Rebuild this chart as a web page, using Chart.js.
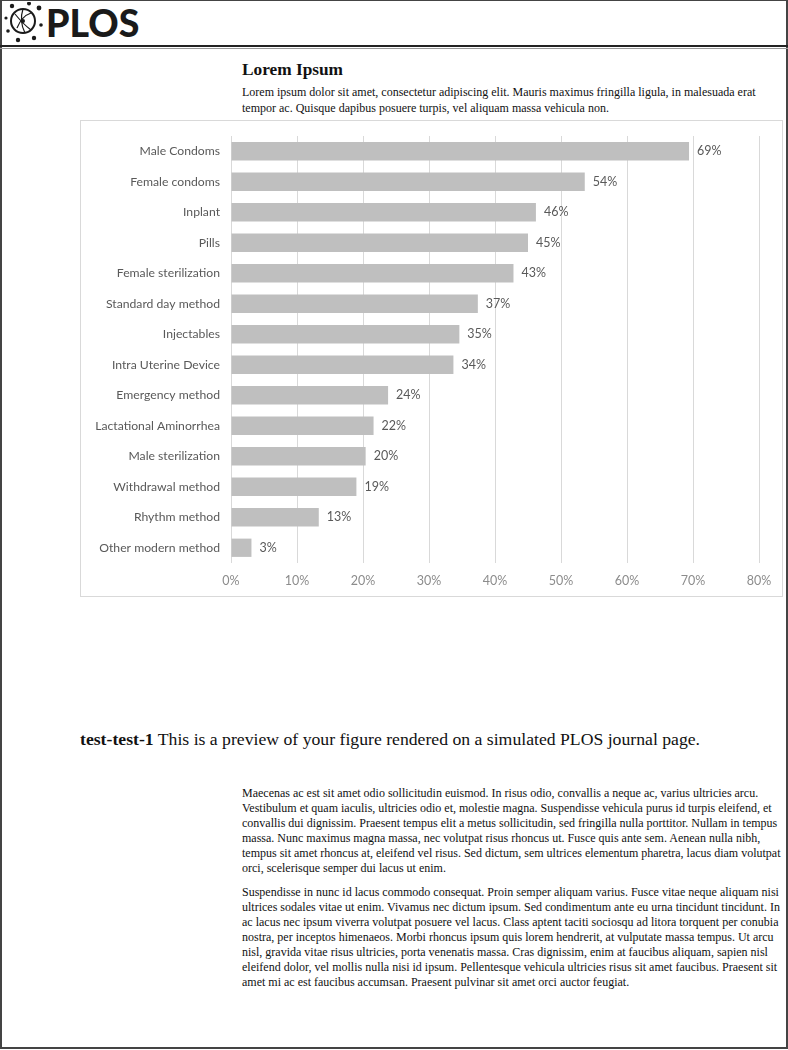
<!DOCTYPE html>
<html>
<head>
<meta charset="utf-8">
<script src="https://cdn.jsdelivr.net/npm/chart.js@4.4.0/dist/chart.umd.min.js"></script>
<style>
  html, body { margin: 0; padding: 0; background: #fff; }
  body { width: 788px; height: 1050px; position: relative; overflow: hidden; font-family: "Liberation Serif", "Times New Roman", serif; color: #111; }
  .frame { position: absolute; left: 0; top: 0; width: 784px; height: 1046px; border: 2px solid #444; border-top: 1px solid #444; }
  .header-line { position: absolute; left: 0; top: 45px; width: 788px; height: 2px; background: #222; }
  .header-line2 { position: absolute; left: 0; top: 48px; width: 788px; height: 1px; background: #999; }
  .logo { position: absolute; left: 4px; top: 2px; }
  .logo-text { position: absolute; left: 46px; top: 0px; font-family: "Lato", "DejaVu Sans", sans-serif; font-weight: 900; font-size: 37.5px; color: #1a1a1a; }
  .title { position: absolute; left: 242px; top: 60px; font-size: 17.3px; font-weight: bold; }
  .subtitle { position: absolute; left: 242px; top: 84px; width: 540px; font-size: 12px; line-height: 16px; }
  .chart-box { position: absolute; left: 80px; top: 120px; width: 701px; height: 475px; border: 1px solid #d9d9d9; }
  .caption { position: absolute; left: 80px; top: 729px; font-size: 17.7px; }
  .body-text { position: absolute; left: 242px; top: 786px; width: 542px; font-size: 12px; line-height: 15.1px; }
  .body-text p { margin: 0 0 8px 0; }
</style>
</head>
<body>
<div class="frame"></div>
<svg class="logo" width="42" height="42" viewBox="0 0 42 42">
  <circle cx="19" cy="19" r="12" fill="none" stroke="#1a1a1a" stroke-width="2"/>
  <path d="M11 12 Q19 22 27 28 M13 26 Q18 14 27 11 M19 7 Q15 19 21 31" fill="none" stroke="#1a1a1a" stroke-width="1.2"/>
  <circle cx="19" cy="19" r="2" fill="#1a1a1a"/>
  <circle cx="8" cy="4" r="2.2" fill="#1a1a1a"/>
  <circle cx="25" cy="1.5" r="2" fill="#1a1a1a"/>
  <circle cx="35" cy="6" r="2.4" fill="#1a1a1a"/>
  <circle cx="2" cy="16" r="1.6" fill="#1a1a1a"/>
  <circle cx="37" cy="23" r="1.8" fill="#1a1a1a"/>
  <circle cx="4" cy="29" r="1.8" fill="#1a1a1a"/>
  <circle cx="14" cy="38" r="2.2" fill="#1a1a1a"/>
  <circle cx="30" cy="36" r="2.2" fill="#1a1a1a"/>
</svg>
<div class="logo-text">PLOS</div>
<div class="header-line"></div>
<div class="header-line2"></div>

<div class="title">Lorem Ipsum</div>
<div class="subtitle">Lorem ipsum dolor sit amet, consectetur adipiscing elit. Mauris maximus fringilla ligula, in malesuada erat tempor ac. Quisque dapibus posuere turpis, vel aliquam massa vehicula non.</div>

<div class="chart-box"><canvas id="chart" width="701" height="475"></canvas></div>

<div class="caption"><b>test-test-1</b> This is a preview of your figure rendered on a simulated PLOS journal page.</div>

<div class="body-text">
<p>Maecenas ac est sit amet odio sollicitudin euismod. In risus odio, convallis a neque ac, varius ultricies arcu. Vestibulum et quam iaculis, ultricies odio et, molestie magna. Suspendisse vehicula purus id turpis eleifend, et convallis dui dignissim. Praesent tempus elit a metus sollicitudin, sed fringilla nulla porttitor. Nullam in tempus massa. Nunc maximus magna massa, nec volutpat risus rhoncus ut. Fusce quis ante sem. Aenean nulla nibh, tempus sit amet rhoncus at, eleifend vel risus. Sed dictum, sem ultrices elementum pharetra, lacus diam volutpat orci, scelerisque semper dui lacus ut enim.</p>
<p>Suspendisse in nunc id lacus commodo consequat. Proin semper aliquam varius. Fusce vitae neque aliquam nisi ultrices sodales vitae ut enim. Vivamus nec dictum ipsum. Sed condimentum ante eu urna tincidunt tincidunt. In ac lacus nec ipsum viverra volutpat posuere vel lacus. Class aptent taciti sociosqu ad litora torquent per conubia nostra, per inceptos himenaeos. Morbi rhoncus ipsum quis lorem hendrerit, at vulputate massa tempus. Ut arcu nisl, gravida vitae risus ultricies, porta venenatis massa. Cras dignissim, enim at faucibus aliquam, sapien nisl eleifend dolor, vel mollis nulla nisi id ipsum. Pellentesque vehicula ultricies risus sit amet faucibus. Praesent sit amet mi ac est faucibus accumsan. Praesent pulvinar sit amet orci auctor feugiat.</p>
</div>

<script>
// methods, top to bottom
const methods = [
    'Male Condoms', 'Female condoms', 'Inplant', 'Pills', 'Female sterilization',
    'Standard day method', 'Injectables', 'Intra Uterine Device', 'Emergency method',
    'Lactational Aminorrhea', 'Male sterilization', 'Withdrawal method', 'Rhythm method',
    'Other modern method'
];
// share of respondents, percent
const shares = [69.4, 53.6, 46.2, 45.0, 42.8, 37.4, 34.6, 33.7, 23.8, 21.6, 20.4, 19.0, 13.3, 3.1];
// labels printed next to the bars
const shareLabels = ['69%', '54%', '46%', '45%', '43%', '37%', '35%', '34%', '24%', '22%', '20%', '19%', '13%', '3%'];
const xTicks = [0, 10, 20, 30, 40, 50, 60, 70, 80];

// draws the value label just right of each bar
const barLabels = {
    id: 'barLabels',
    afterDatasetsDraw (chart) {
        const ctx = chart.ctx;
        const meta = chart.getDatasetMeta(0);
        ctx.save();
        ctx.font = '12.5px Lato, "Open Sans", sans-serif';
        ctx.fillStyle = '#595959';
        ctx.textAlign = 'left';
        ctx.textBaseline = 'middle';
        meta.data.forEach((bar, i) => {
            ctx.fillText(shareLabels[i], bar.x + 8, bar.y);
        });
        ctx.restore();
    }
};

new Chart(document.getElementById('chart'), {
    type: 'bar',
    data: {
        labels: methods,
        datasets: [{
            data: shares,
            backgroundColor: '#bfbfbf',
            barPercentage: 0.6,
            categoryPercentage: 1.0
        }]
    },
    options: {
        indexAxis: 'y',
        responsive: false,
        animation: false,
        devicePixelRatio: 1,
        layout: { padding: { top: 15, right: 23, left: 0, bottom: 0 } },
        plugins: {
            legend: { display: false },
            tooltip: { enabled: false }
        },
        scales: {
            x: {
                min: 0,
                max: 80,
                afterBuildTicks (scale) { scale.ticks = xTicks.map(v => ({ value: v })); },
                afterFit (scale) { scale.height = 33; },
                grid: { color: '#d9d9d9', drawTicks: false },
                border: { display: false },
                ticks: {
                    padding: 10,
                    color: '#8c8c8c',
                    font: { family: 'Lato, "Open Sans", sans-serif', size: 12.5 },
                    callback: v => v + '%'
                }
            },
            y: {
                afterFit (scale) {
                    scale.width = 150;
                    scale.paddingTop = 0;
                    scale.paddingBottom = 0;
                },
                grid: { display: false, drawTicks: false },
                border: { display: false },
                ticks: {
                    padding: 11,
                    color: '#595959',
                    font: { family: 'Lato, "Open Sans", sans-serif', size: 12.2 }
                }
            }
        }
    },
    plugins: [barLabels]
});
</script>
</body>
</html>
